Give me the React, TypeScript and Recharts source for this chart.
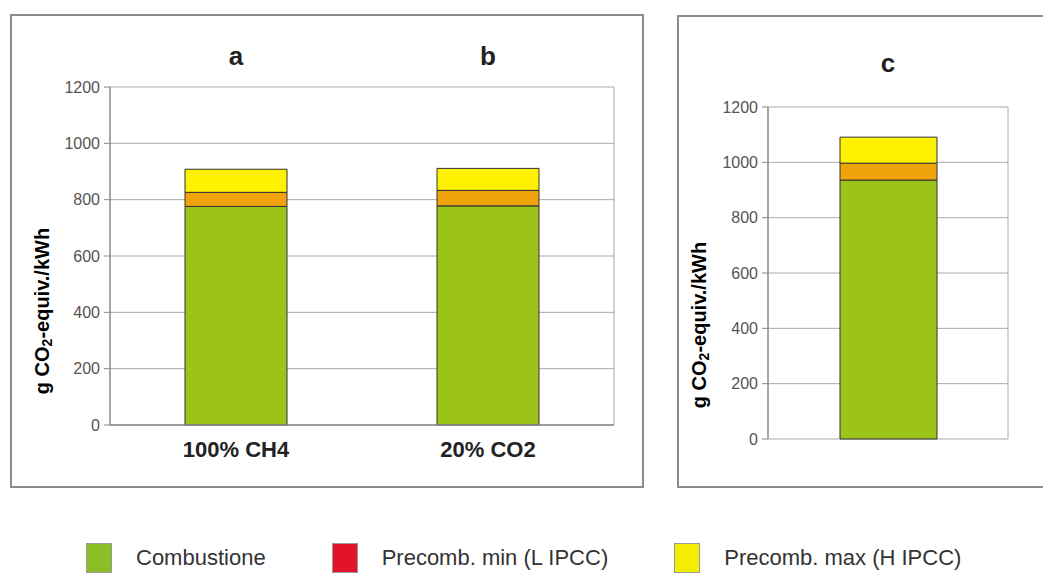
import React from 'react';
import { BarChart, Bar, XAxis, YAxis, CartesianGrid } from 'recharts';

// ---- data ----
const categoriesAB = ['100% CH4', '20% CO2'];
const titlesAB = ['a', 'b'];
const combustioneAB = [776, 778];
const precombMinAB = [50, 55];
const precombMaxAB = [82, 78];

const categoriesC = [''];
const titlesC = ['c'];
const combustioneC = [936];
const precombMinC = [61];
const precombMaxC = [94];

const yTicks = [0, 200, 400, 600, 800, 1000, 1200];
const yDomain = [0, 1200];

const seriesNames = ['Combustione', 'Precomb. min (L IPCC)', 'Precomb. max (H IPCC)'];
const seriesKeys = ['comb', 'pmin', 'pmax'];
const barColors = ['#9BC31A', '#F0A30A', '#FFF200'];
const legendColors = ['#8CBF26', '#E3132B', '#F2EE00'];

const FONT = '"Liberation Sans", Arial, Helvetica, sans-serif';

const dataAB = categoriesAB.map((c, i) => ({
  cat: c,
  title: titlesAB[i],
  comb: combustioneAB[i],
  pmin: precombMinAB[i],
  pmax: precombMaxAB[i],
}));

const dataC = categoriesC.map((c, i) => ({
  cat: c,
  title: titlesC[i],
  comb: combustioneC[i],
  pmin: precombMinC[i],
  pmax: precombMaxC[i],
}));

function TitleTick(props: any) {
  const { x, y, payload } = props;
  return (
    <text x={x} y={y} textAnchor="middle" fontFamily={FONT} fontWeight="bold" fontSize={26} fill="#222">
      {payload.value}
    </text>
  );
}

function YLabel(props: any) {
  const { px, py } = props;
  return (
    <text
      x={px}
      y={py}
      transform={`rotate(-90 ${px} ${py})`}
      textAnchor="middle"
      dominantBaseline="central"
      fontFamily={FONT}
      fontWeight="bold"
      fontSize={20}
      fill="#000"
    >
      g CO<tspan dy={5} fontSize={14}>2</tspan>
      <tspan dy={-5}>-equiv./kWh</tspan>
    </text>
  );
}

const rightEdge = ({ offset }: any) => [offset.left + offset.width];

function Panel(props: any) {
  const { data, width, height, margin, barSize, showCats, labelPos, titleMargin } = props;
  return (
    <BarChart width={width} height={height} data={data} margin={margin} barCategoryGap={0}>
      <CartesianGrid
        stroke="#aaa"
        strokeWidth={1}
        vertical={true}
        verticalCoordinatesGenerator={rightEdge}
      />
      <XAxis
        xAxisId="top"
        orientation="top"
        dataKey="title"
        axisLine={false}
        tickLine={false}
        tickSize={0}
        tickMargin={titleMargin}
        height={30}
        interval={0}
        tick={<TitleTick />}
      />
      <XAxis
        dataKey="cat"
        axisLine={{ stroke: '#888', strokeWidth: 1.5 }}
        tickLine={false}
        tick={showCats ? { fill: '#222', fontSize: 22, fontWeight: 'bold', fontFamily: FONT } : false}
        tickMargin={10}
        height={showCats ? 40 : 0}
        interval={0}
      />
      <YAxis
        domain={yDomain}
        ticks={yTicks}
        interval={0}
        width={60}
        tickSize={6}
        tickMargin={4}
        axisLine={{ stroke: '#888', strokeWidth: 1.5 }}
        tickLine={{ stroke: '#888' }}
        tick={{ fill: '#555', fontSize: 16, fontFamily: FONT }}
        label={<YLabel px={labelPos[0]} py={labelPos[1]} />}
      />
      {seriesKeys.map((k, i) => (
        <Bar
          key={k}
          dataKey={k}
          name={seriesNames[i]}
          stackId="s"
          fill={barColors[i]}
          stroke="#333"
          strokeWidth={1}
          barSize={barSize}
          isAnimationActive={false}
        />
      ))}
    </BarChart>
  );
}

export default function App() {
  return (
    <div
      style={{
        position: 'absolute',
        left: 0,
        top: 0,
        width: 1043,
        height: 573,
        overflow: 'hidden',
        background: '#fff',
        fontFamily: FONT,
      }}
    >
      <div
        style={{
          position: 'absolute',
          left: 10,
          top: 14,
          width: 634,
          height: 474,
          border: '2px solid #8c8c8c',
          boxSizing: 'border-box',
        }}
      />
      <div
        style={{
          position: 'absolute',
          left: 677,
          top: 15,
          width: 380,
          height: 473,
          border: '2px solid #8c8c8c',
          borderRight: 'none',
          boxSizing: 'border-box',
        }}
      />
      <div style={{ position: 'absolute', left: 0, top: 0 }}>
        <Panel
          data={dataAB}
          width={660}
          height={500}
          margin={{ top: 57, right: 46, bottom: 35, left: 50 }}
          barSize={102}
          showCats={true}
          labelPos={[42, 311]}
          titleMargin={22}
        />
      </div>
      <div style={{ position: 'absolute', left: 660, top: 0 }}>
        <Panel
          data={dataC}
          width={383}
          height={500}
          margin={{ top: 77, right: 35, bottom: 61, left: 48 }}
          barSize={97}
          showCats={false}
          labelPos={[39, 325]}
          titleMargin={35}
        />
      </div>
      <div
        style={{
          position: 'absolute',
          left: 86,
          top: 543,
          display: 'flex',
          alignItems: 'center',
          whiteSpace: 'nowrap',
        }}
      >
        {seriesNames.map((n, i) => (
          <div key={n} style={{ display: 'flex', alignItems: 'center', marginRight: 66 }}>
            <div
              style={{
                width: 26,
                height: 30,
                background: legendColors[i],
                border: '1px solid #999',
                boxSizing: 'border-box',
                marginRight: 24,
              }}
            />
            <span style={{ fontSize: 22, color: '#333', fontFamily: FONT }}>{n}</span>
          </div>
        ))}
      </div>
    </div>
  );
}
